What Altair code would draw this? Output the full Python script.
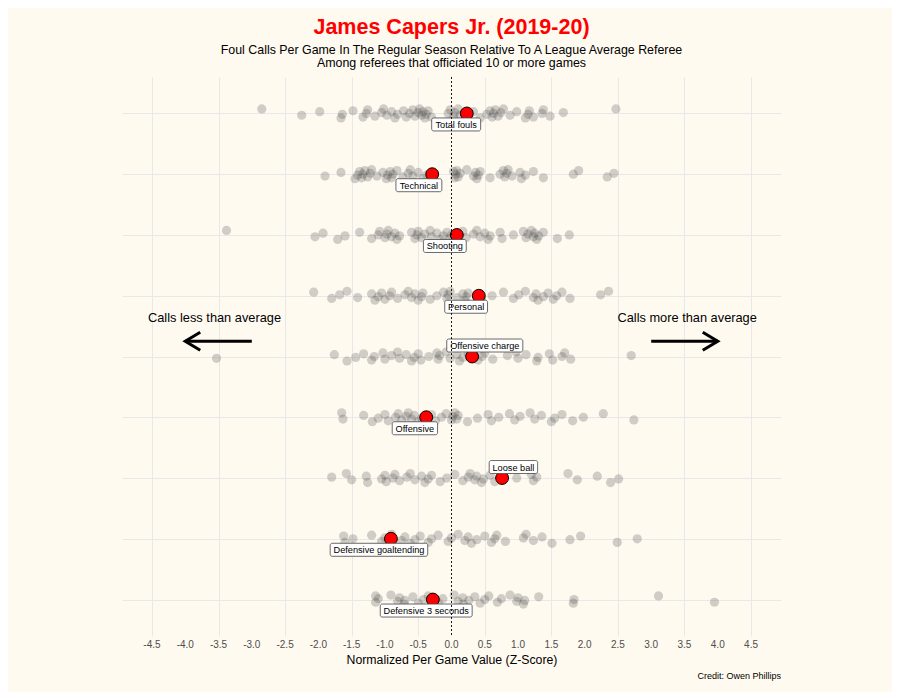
import altair as alt
import pandas as pd

# ---------------- data ----------------
categories = ["Total fouls", "Technical", "Shooting", "Personal", "Offensive charge",
              "Offensive", "Loose ball", "Defensive goaltending", "Defensive 3 seconds"]

total_fouls = [-2.85, -2.25, -1.98, -1.66, -1.64, -1.48, -1.33, -1.28, -1.26, -1.15, -1.05, -1.02,
               -0.97, -0.90, -0.85, -0.81, -0.72, -0.68, -0.63, -0.58, -0.55, -0.50, -0.48, -0.45,
               -0.43, -0.40, -0.38, -0.35, -0.30, -0.05, -0.02, 0.03, 0.05, 0.10, 0.13, 0.33, 0.43,
               0.53, 0.58, 0.61, 0.63, 0.66, 0.70, 0.74, 0.78, 0.88, 0.98, 1.11, 1.15, 1.17, 1.23,
               1.36, 1.38, 1.48, 1.68, 2.47]
technical = [-1.90, -1.66, -1.45, -1.41, -1.38, -1.35, -1.33, -1.30, -1.26, -1.22, -1.20, -1.12,
             -1.03, -0.98, -0.96, -0.92, -0.90, -0.88, -0.82, -0.73, -0.65, -0.62, -0.58, -0.50,
             -0.43, -0.37, 0.03, 0.05, 0.06, 0.08, 0.10, 0.13, 0.23, 0.33, 0.36, 0.38, 0.40, 0.43,
             0.58, 0.73, 0.78, 0.80, 0.83, 0.85, 0.91, 1.03, 1.05, 1.11, 1.23, 1.38, 1.83, 1.91,
             2.34, 2.44]
shooting = [-3.38, -2.05, -1.93, -1.71, -1.60, -1.38, -1.20, -1.10, -1.08, -1.00, -0.97, -0.95,
            -0.90, -0.85, -0.82, -0.78, -0.60, -0.55, -0.52, -0.50, -0.45, -0.40, -0.32, -0.30,
            -0.22, -0.17, -0.12, -0.07, -0.03, 0.00, 0.17, 0.22, 0.33, 0.38, 0.43, 0.50, 0.55,
            0.58, 0.73, 0.76, 0.93, 1.08, 1.12, 1.15, 1.20, 1.23, 1.25, 1.28, 1.31, 1.38, 1.59, 1.77]
personal = [-2.07, -1.80, -1.68, -1.57, -1.41, -1.20, -1.15, -1.10, -1.05, -1.00, -0.93, -0.90,
            -0.81, -0.70, -0.65, -0.60, -0.55, -0.50, -0.45, -0.43, -0.32, -0.22, -0.12, -0.07,
            -0.05, -0.02, 0.08, 0.17, 0.20, 0.22, 0.25, 0.45, 0.61, 0.78, 0.93, 1.01, 1.11, 1.23,
            1.27, 1.30, 1.38, 1.45, 1.53, 1.58, 1.66, 1.78, 2.24, 2.36]
offensive_charge = [-3.53, -1.76, -1.57, -1.44, -1.32, -1.20, -1.16, -1.03, -1.00, -0.90, -0.81,
                    -0.78, -0.68, -0.60, -0.56, -0.50, -0.46, -0.34, -0.22, -0.20, -0.18, -0.08,
                    -0.02, 0.08, 0.12, 0.17, 0.25, 0.40, 0.46, 0.50, 0.62, 0.84, 0.97, 1.00, 1.12,
                    1.28, 1.30, 1.47, 1.52, 1.66, 1.70, 1.79, 2.70]
offensive = [-1.65, -1.63, -1.32, -1.19, -1.10, -1.00, -0.95, -0.84, -0.80, -0.75, -0.68, -0.65,
             -0.60, -0.56, -0.50, -0.45, -0.30, -0.24, -0.15, -0.08, 0.00, 0.02, 0.05, 0.08, 0.10,
             0.24, 0.39, 0.55, 0.60, 0.71, 0.87, 0.95, 1.03, 1.18, 1.25, 1.35, 1.50, 1.55, 1.66,
             1.82, 1.98, 2.28, 2.74]
loose_ball = [-1.80, -1.58, -1.50, -1.28, -1.26, -1.05, -1.00, -0.98, -0.88, -0.85, -0.78, -0.67,
              -0.62, -0.55, -0.45, -0.40, -0.35, -0.30, -0.17, -0.07, 0.05, 0.17, 0.25, 0.28, 0.35,
              0.38, 0.45, 0.48, 0.58, 0.65, 0.98, 1.20, 1.23, 1.28, 1.75, 1.89, 2.19, 2.39, 2.51]
defensive_goaltending = [-1.62, -1.60, -1.48, -1.20, -1.05, -1.00, -0.90, -0.75, -0.70, -0.62,
                         -0.55, -0.47, -0.35, -0.30, -0.20, -0.05, 0.00, 0.10, 0.20, 0.25, 0.30,
                         0.38, 0.50, 0.60, 0.65, 0.68, 0.81, 1.08, 1.12, 1.23, 1.36, 1.51, 1.78,
                         1.94, 2.49, 2.79]
defensive_3_seconds = [-1.14, -1.14, -1.10, -0.91, -0.81, -0.78, -0.71, -0.70, -0.58, -0.50,
                       -0.42, -0.35, -0.20, -0.13, 0.04, 0.10, 0.17, 0.18, 0.26, 0.35, 0.43, 0.50,
                       0.56, 0.69, 0.75, 0.88, 0.98, 1.00, 1.08, 1.10, 1.31, 1.83, 1.84, 3.11, 3.95]

referee_rows = [total_fouls, technical, shooting, personal, offensive_charge, offensive,
                loose_ball, defensive_goaltending, defensive_3_seconds]

capers_values = [0.23, -0.29, 0.08, 0.41, 0.31, -0.38, 0.76, -0.91, -0.28]
label_x = [0.07, -0.49, -0.10, 0.22, 0.50, -0.55, 0.93, -1.09, -0.38]
label_side = ["below", "below", "below", "below", "above", "below", "above", "below", "below"]

x_ticks = [-4.5, -4.0, -3.5, -3.0, -2.5, -2.0, -1.5, -1.0, -0.5, 0.0,
           0.5, 1.0, 1.5, 2.0, 2.5, 3.0, 3.5, 4.0, 4.5]
x_tick_labels = ["-4.5", "-4.0", "-3.5", "-3.0", "-2.5", "-2.0", "-1.5", "-1.0", "-0.5", "0.0",
                 "0.5", "1.0", "1.5", "2.0", "2.5", "3.0", "3.5", "4.0", "4.5"]

annot_text = ["Calls less than average", "Calls more than average"]
annot_x = [-3.56, 3.54]
arrow_from = [-3.0, 3.0]
arrow_to = [-4.0, 4.0]

# ---------------- layout constants ----------------
W, H = 659, 559
X_MIN, X_MAX = -4.95, 4.95
Y_MIN, Y_MAX = -0.6, 8.6
PPU = W / (X_MAX - X_MIN)
PPR = H / (Y_MAX - Y_MIN)
FONT = "Liberation Sans"
BG = "#FFFAF0"

# ---------------- tables ----------------
rows = []
k = 0
for r, vals in enumerate(referee_rows):
    for v in vals:
        jit_px = ((k * 7) % 11 - 5) * 0.9
        rows.append({"cat": categories[r], "row": r, "value": v, "yj": r + jit_px / PPR})
        k += 1
refs = pd.DataFrame(rows)

AW = {'a': 556, 'b': 556, 'c': 500, 'd': 556, 'e': 556, 'f': 278, 'g': 556, 'h': 556, 'i': 222,
      'j': 222, 'k': 500, 'l': 222, 'm': 833, 'n': 556, 'o': 556, 'p': 556, 'q': 556, 'r': 333,
      's': 500, 't': 278, 'u': 556, 'v': 500, 'w': 722, 'x': 500, 'y': 500, 'z': 500, ' ': 278,
      'T': 611, 'D': 722, 'O': 778, 'S': 667, 'P': 667, 'L': 556}

def text_w(s, size=9.2):
    return sum(AW.get(c, 556) for c in s) / 1000 * size

lab_rows = []
for r, c in enumerate(categories):
    ly = r + (11 / PPR if label_side[r] == "below" else -11 / PPR)
    half = (text_w(c) + 6.5) / 2 / PPU
    lab_rows.append({"cat": c, "row": r, "value": capers_values[r], "lx": label_x[r], "ly": ly,
                     "x1": label_x[r] - half, "x2": label_x[r] + half,
                     "y1": ly - 6.5 / PPR, "y2": ly + 6.5 / PPR})
labs = pd.DataFrame(lab_rows)

ann = pd.DataFrame({"text": annot_text, "x": annot_x, "y": [3.36, 3.36],
                    "xa": arrow_from, "xb": arrow_to, "ya": [3.75, 3.75]})

ticks_df = pd.DataFrame({"v": x_ticks, "lab": x_tick_labels})

xs = alt.Scale(domain=[X_MIN, X_MAX], nice=False, zero=False)
ys = alt.Scale(domain=[Y_MIN, Y_MAX], nice=False, zero=False, reverse=True)

x_axis = alt.Axis(values=x_ticks, grid=True, gridColor="#E8E8E8", gridWidth=1, domain=False,
                  ticks=False, labels=False,
                  title="Normalized Per Game Value (Z-Score)", titleFont=FONT, titleFontSize=12.3,
                  titleFontWeight="normal", titleColor="black", titlePadding=17)
y_axis = alt.Axis(values=list(range(9)), grid=True, gridColor="#E8E8E8", gridWidth=1,
                  domain=False, ticks=False, labels=False, title=None)

base_ref = alt.Chart(refs)
points = base_ref.mark_circle(size=85, color="#4D4D4D", opacity=0.26).encode(
    x=alt.X("value:Q", scale=xs, axis=x_axis),
    y=alt.Y("yj:Q", scale=ys, axis=y_axis),
)

tick_text = alt.Chart(ticks_df).mark_text(
    font=FONT, fontSize=10, color="#4D4D4D", align="center", baseline="middle").encode(
    x=alt.X("v:Q", scale=xs), y=alt.value(H + 9), text="lab:N")

base_lab = alt.Chart(labs)
red = base_lab.mark_circle(size=165, color="red", stroke="black", strokeWidth=1, opacity=1).encode(
    x=alt.X("value:Q", scale=xs), y=alt.Y("row:Q", scale=ys))
boxes = base_lab.mark_rect(fill="white", stroke="#444444", strokeWidth=0.8, cornerRadius=2).encode(
    x=alt.X("x1:Q", scale=xs), x2="x2:Q", y=alt.Y("y1:Q", scale=ys), y2="y2:Q")
texts = base_lab.mark_text(font=FONT, fontSize=9.2, color="black", align="center",
                           baseline="middle", dy=0.5).encode(
    x=alt.X("lx:Q", scale=xs), y=alt.Y("ly:Q", scale=ys), text="cat:N")

base_ann = alt.Chart(ann)
ann_text = base_ann.mark_text(font=FONT, fontSize=12.8, color="black", align="center",
                              baseline="middle").encode(
    x=alt.X("x:Q", scale=xs), y=alt.Y("y:Q", scale=ys), text="text:N")
shafts = base_ann.mark_rule(color="black", strokeWidth=3).encode(
    x=alt.X("xa:Q", scale=xs), x2="xb:Q", y=alt.Y("ya:Q", scale=ys))
head_left = alt.Chart(ann.iloc[[0]]).mark_point(
    shape="M1,-0.6L0,0L1,0.6", size=900, filled=False, color="black", strokeWidth=3,
    opacity=1, strokeJoin="miter").encode(x=alt.X("xb:Q", scale=xs), y=alt.Y("ya:Q", scale=ys))
head_right = alt.Chart(ann.iloc[[1]]).mark_point(
    shape="M-1,-0.6L0,0L-1,0.6", size=900, filled=False, color="black", strokeWidth=3,
    opacity=1, strokeJoin="miter").encode(x=alt.X("xb:Q", scale=xs), y=alt.Y("ya:Q", scale=ys))

zero = pd.DataFrame({"z": [0.0]})
zero_rule = alt.Chart(zero).mark_rule(color="black", strokeWidth=0.9, strokeDash=[2, 2]).encode(
    x=alt.X("z:Q", scale=xs))

credit = alt.Chart(pd.DataFrame({"t": ["Credit: Owen Phillips"]})).mark_text(
    font=FONT, fontSize=9, color="black", align="right", baseline="middle").encode(
    x=alt.value(W), y=alt.value(599), text="t:N")

chart = alt.layer(points, tick_text, red, boxes, texts, ann_text, shafts, head_left, head_right,
                  zero_rule, credit).properties(
    width=W, height=H,
    title=alt.Title(
        text="James Capers Jr. (2019-20)",
        subtitle=["Foul Calls Per Game In The Regular Season Relative To A League Average Referee",
                  "Among referees that officiated 10 or more games"],
        color="#FF0000", fontSize=21.5, fontWeight="bold", font=FONT,
        subtitleColor="black", subtitleFontSize=12.4, subtitleFont=FONT, subtitleLineHeight=13,
        subtitlePadding=6, anchor="middle", frame="group", offset=7),
    autosize=alt.AutoSizeParams(type="none"),
    padding={"left": 114, "top": 69, "right": 111, "bottom": 56},
    background=BG,
).configure_view(stroke=None)

chart.save("out.html", embed_options={"renderer": "svg", "actions": False})
